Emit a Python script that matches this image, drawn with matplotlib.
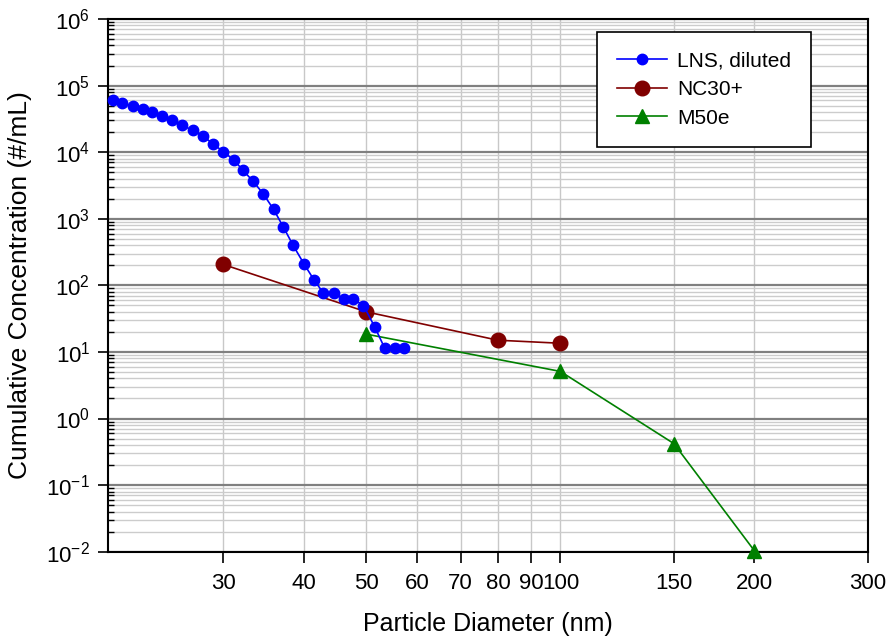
import numpy as np
import matplotlib
matplotlib.use('Agg')
import matplotlib.pyplot as plt
from matplotlib.ticker import LogLocator, FixedLocator, NullFormatter, FixedFormatter

plt.rcParams['font.family'] = ['Liberation Sans', 'DejaVu Sans']
plt.rcParams['mathtext.default'] = 'regular'

# LNS, diluted
lns_d = [20.2, 20.9, 21.7, 22.5, 23.3, 24.1, 25.0, 25.9, 26.9, 27.9,
         28.9, 30.0, 31.2, 32.2, 33.4, 34.6, 35.9, 37.2, 38.5, 40.0,
         41.5, 42.9, 44.5, 46.1, 47.7, 49.5, 51.5, 53.4, 55.3, 57.3]
lns_c = [59700, 54900, 49500, 44600, 40200, 35000, 30400, 25300, 21300, 17500,
         13400, 10200, 7520, 5320, 3630, 2370, 1390, 745, 399, 212,
         120, 76.6, 76.6, 62.8, 62.8, 49.8, 24.0, 11.4, 11.4, 11.4]

# NC30+
nc_d = [30, 50, 80, 100]
nc_c = [206, 40.0, 15.0, 13.5]

# M50e
m_d = [50, 100, 150, 200]
m_c = [18.5, 5.1, 0.42, 0.0103]

xticks = [30, 40, 50, 60, 70, 80, 90, 100, 150, 200, 300]

fig = plt.figure(figsize=(8.9, 6.39), dpi=100)
ax = fig.add_axes([0.1217, 0.1366, 0.9753 - 0.1217, 0.9703 - 0.1366])

ax.plot(lns_d, lns_c, color='#0000FF', lw=1.2, marker='o', ms=7.5,
        label='LNS, diluted', clip_on=False, zorder=5)
ax.plot(nc_d, nc_c, color='#800000', lw=1.2, marker='o', ms=10.5,
        label='NC30+', clip_on=False, zorder=4)
ax.plot(m_d, m_c, color='#008000', lw=1.2, marker='^', ms=10,
        label='M50e', clip_on=False, zorder=4)

ax.set_xscale('log')
ax.set_yscale('log')
ax.set_xlim(19.9, 300)
ax.set_ylim(1e-2, 1e6)

ax.xaxis.set_major_locator(FixedLocator(xticks))
ax.xaxis.set_major_formatter(FixedFormatter([str(t) for t in xticks]))
ax.xaxis.set_minor_locator(FixedLocator([]))
ax.xaxis.set_minor_formatter(NullFormatter())

ax.yaxis.set_major_locator(LogLocator(base=10, numticks=20))
ax.yaxis.set_minor_locator(LogLocator(base=10, subs=np.arange(2, 10), numticks=20))
ax.yaxis.set_minor_formatter(NullFormatter())

ax.tick_params(axis='x', which='major', direction='out', length=8, width=1.2,
               labelsize=16, pad=7)
ax.tick_params(axis='y', which='major', direction='out', length=7, width=1.2,
               labelsize=16, pad=6)
ax.tick_params(axis='y', which='minor', direction='in', length=4, width=1)

ax.grid(True, axis='y', which='major', color='#808080', lw=1.6)
ax.grid(True, axis='y', which='minor', color='#cccccc', lw=1)
ax.grid(True, axis='x', which='major', color='#c8c8c8', lw=1)
ax.set_axisbelow(True)

for s in ax.spines.values():
    s.set_linewidth(1.5)
    s.set_color('black')

ax.set_xlabel('Particle Diameter (nm)', fontsize=18, labelpad=13)
ax.set_ylabel('Cumulative Concentration (#/mL)', fontsize=19, labelpad=10)

leg = ax.legend(loc='upper right', bbox_to_anchor=(0.925, 0.9756), fontsize=15,
                frameon=True, fancybox=False, edgecolor='black',
                handlelength=2.4, handletextpad=0.5, borderpad=0.95,
                labelspacing=0.45, borderaxespad=0, framealpha=1)
leg.get_frame().set_linewidth(1.2)

fig.savefig('out.png', dpi=100)
